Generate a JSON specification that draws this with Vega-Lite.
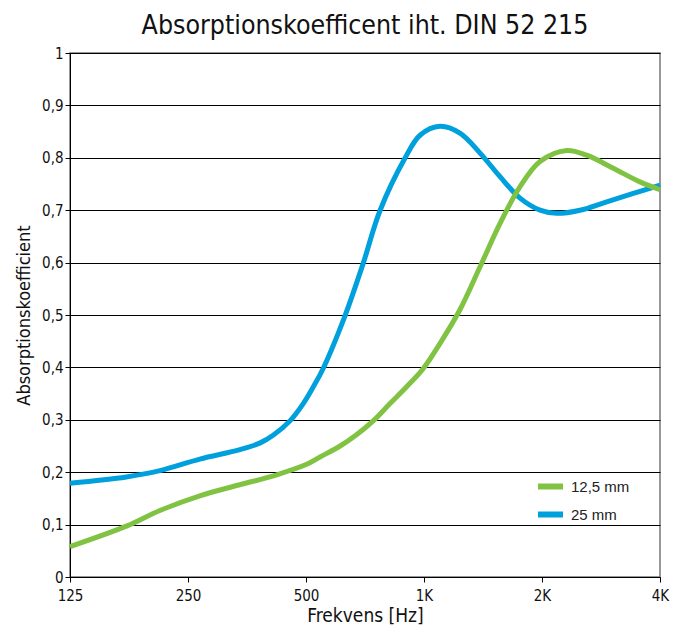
{
  "$schema": "https://vega.github.io/schema/vega-lite/v6.json",
  "width": 590,
  "height": 524,
  "autosize": {"type": "none"},
  "padding": {"left": 70, "top": 53, "right": 22, "bottom": 55},
  "background": "white",
  "title": {"text": "Absorptionskoefficent iht. DIN 52 215", "fontSize": 26.5, "font": "DejaVu Sans Condensed", "fontWeight": "normal", "color": "#111", "anchor": "middle", "offset": 7},
  "config": {
    "view": {"stroke": "#777", "strokeWidth": 1.5},
    "axis": {"labelFont": "DejaVu Sans Condensed", "titleFont": "DejaVu Sans Condensed", "labelFontSize": 15, "titleFontSize": 18, "titleFontWeight": "normal", "labelColor": "#111", "titleColor": "#111", "domainColor": "#000", "tickColor": "#000", "gridColor": "#000", "gridOpacity": 1}
  },
  "data": {"values": [
    {"f": 125, "a": 0.179, "s": "25 mm"},
    {"f": 174, "a": 0.191, "s": "25 mm"},
    {"f": 212, "a": 0.203, "s": "25 mm"},
    {"f": 268, "a": 0.225, "s": "25 mm"},
    {"f": 339, "a": 0.243, "s": "25 mm"},
    {"f": 382, "a": 0.256, "s": "25 mm"},
    {"f": 413, "a": 0.271, "s": "25 mm"},
    {"f": 455, "a": 0.298, "s": "25 mm"},
    {"f": 492, "a": 0.331, "s": "25 mm"},
    {"f": 522, "a": 0.363, "s": "25 mm"},
    {"f": 553, "a": 0.398, "s": "25 mm"},
    {"f": 629, "a": 0.499, "s": "25 mm"},
    {"f": 700, "a": 0.599, "s": "25 mm"},
    {"f": 772, "a": 0.699, "s": "25 mm"},
    {"f": 894, "a": 0.799, "s": "25 mm"},
    {"f": 977, "a": 0.843, "s": "25 mm"},
    {"f": 1099, "a": 0.860, "s": "25 mm"},
    {"f": 1235, "a": 0.847, "s": "25 mm"},
    {"f": 1390, "a": 0.809, "s": "25 mm"},
    {"f": 1563, "a": 0.764, "s": "25 mm"},
    {"f": 1758, "a": 0.723, "s": "25 mm"},
    {"f": 1977, "a": 0.700, "s": "25 mm"},
    {"f": 2181, "a": 0.694, "s": "25 mm"},
    {"f": 2500, "a": 0.700, "s": "25 mm"},
    {"f": 2925, "a": 0.716, "s": "25 mm"},
    {"f": 3420, "a": 0.732, "s": "25 mm"},
    {"f": 4000, "a": 0.748, "s": "25 mm"},
    {"f": 125, "a": 0.058, "s": "12,5 mm"},
    {"f": 174, "a": 0.097, "s": "12,5 mm"},
    {"f": 212, "a": 0.127, "s": "12,5 mm"},
    {"f": 268, "a": 0.155, "s": "12,5 mm"},
    {"f": 339, "a": 0.176, "s": "12,5 mm"},
    {"f": 421, "a": 0.195, "s": "12,5 mm"},
    {"f": 502, "a": 0.215, "s": "12,5 mm"},
    {"f": 543, "a": 0.229, "s": "12,5 mm"},
    {"f": 611, "a": 0.250, "s": "12,5 mm"},
    {"f": 674, "a": 0.272, "s": "12,5 mm"},
    {"f": 742, "a": 0.298, "s": "12,5 mm"},
    {"f": 819, "a": 0.331, "s": "12,5 mm"},
    {"f": 903, "a": 0.363, "s": "12,5 mm"},
    {"f": 996, "a": 0.398, "s": "12,5 mm"},
    {"f": 1099, "a": 0.446, "s": "12,5 mm"},
    {"f": 1235, "a": 0.510, "s": "12,5 mm"},
    {"f": 1390, "a": 0.592, "s": "12,5 mm"},
    {"f": 1563, "a": 0.675, "s": "12,5 mm"},
    {"f": 1758, "a": 0.745, "s": "12,5 mm"},
    {"f": 1977, "a": 0.793, "s": "12,5 mm"},
    {"f": 2312, "a": 0.814, "s": "12,5 mm"},
    {"f": 2600, "a": 0.805, "s": "12,5 mm"},
    {"f": 3040, "a": 0.780, "s": "12,5 mm"},
    {"f": 3556, "a": 0.754, "s": "12,5 mm"},
    {"f": 4000, "a": 0.739, "s": "12,5 mm"}
  ]},
  "mark": {"type": "line", "interpolate": "catmull-rom", "strokeWidth": 5, "strokeCap": "butt"},
  "encoding": {
    "x": {"field": "f", "type": "quantitative", "scale": {"type": "log", "base": 2, "domain": [125, 4000], "nice": false},
      "axis": {"title": "Frekvens [Hz]", "titleFontSize": 19, "values": [125, 250, 500, 1000, 2000, 4000], "labelExpr": "datum.value >= 1000 ? (datum.value/1000) + 'K' : datum.value + ''", "grid": false, "tickSize": 5, "labelPadding": 6, "labelFlush": false, "titlePadding": 3}},
    "y": {"field": "a", "type": "quantitative", "scale": {"domain": [0, 1], "nice": false},
      "axis": {"title": "Absorptionskoefficient", "values": [0, 0.1, 0.2, 0.3, 0.4, 0.5, 0.6, 0.7, 0.8, 0.9, 1], "labelExpr": "replace(format(datum.value, '.1~f'), '.', ',')", "tickSize": 5, "labelPadding": 2, "titlePadding": 8}},
    "color": {"field": "s", "type": "nominal", "scale": {"domain": ["12,5 mm", "25 mm"], "range": ["#80c343", "#00a0dc"]},
      "legend": {"title": null, "orient": "none", "legendX": 465, "legendY": 418, "symbolType": "stroke", "symbolStrokeWidth": 6, "symbolSize": 625, "labelFontSize": 15, "labelFont": "Liberation Sans", "labelColor": "#222", "rowPadding": 0, "labelOffset": 5}}
  }
}
